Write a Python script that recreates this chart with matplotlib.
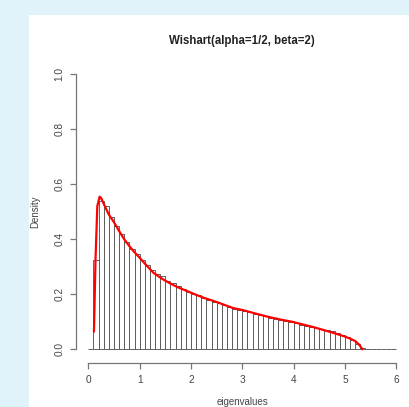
import numpy as np
import matplotlib
matplotlib.use("Agg")
import matplotlib.pyplot as plt
from matplotlib.patches import Rectangle

plt.rcParams['font.family'] = ['Liberation Sans', 'DejaVu Sans']

# histogram: bin width 0.1 from 0 to 6 (density values)
bin_edges = np.round(np.arange(0, 6.0, 0.1), 2)
bin_heights = [0.0, 0.325, 0.54, 0.52, 0.48, 0.45, 0.42, 0.39, 0.365, 0.345,
               0.325, 0.305, 0.29, 0.275, 0.265, 0.25, 0.24, 0.23, 0.22, 0.21,
               0.202, 0.196, 0.186, 0.18, 0.172, 0.168, 0.16, 0.153, 0.148, 0.143,
               0.14, 0.134, 0.128, 0.125, 0.12, 0.115, 0.112, 0.107, 0.103, 0.099,
               0.094, 0.09, 0.086, 0.082, 0.078, 0.074, 0.07, 0.065, 0.058, 0.052,
               0.045, 0.035, 0.02, 0.004, 0.0, 0.0, 0.0, 0.0, 0.0, 0.0]

# theoretical density curve (red)
curve_x = [0.11, 0.14, 0.175, 0.22, 0.25, 0.31, 0.40, 0.50, 0.60, 0.70, 0.80,
           0.89, 1.0, 1.085, 1.27, 1.45, 1.59, 1.75, 1.92, 2.1, 2.24, 2.5,
           2.82, 3.0, 3.2, 3.48, 3.75, 4.0, 4.12, 4.4, 4.77, 4.97, 5.10, 5.2,
           5.28, 5.34]
curve_y = [0.064, 0.325, 0.52, 0.555, 0.55, 0.525, 0.49, 0.462, 0.43, 0.40,
           0.375, 0.355, 0.333, 0.315, 0.278, 0.255, 0.24, 0.225, 0.212, 0.198,
           0.188, 0.172, 0.150, 0.143, 0.133, 0.119, 0.108, 0.099, 0.093, 0.08,
           0.06, 0.048, 0.039, 0.03, 0.016, 0.0]

x_ticks = [0, 1, 2, 3, 4, 5, 6]
y_ticks = [0.0, 0.2, 0.4, 0.6, 0.8, 1.0]

fig = plt.figure(figsize=(4.10, 4.07), dpi=100)
fig.patch.set_facecolor('#E0F2FA')
fig.add_artist(Rectangle((29 / 410, 0), 1, 392 / 407, transform=fig.transFigure,
                         facecolor='white', edgecolor='none', zorder=-5))

ax = fig.add_axes([76 / 410, 46.7 / 407, 332.6 / 410, 297 / 407])
ax.set_facecolor('none')

ax.bar(bin_edges, bin_heights, width=0.1, align='edge', fill=False,
       edgecolor='#606060', linewidth=0.7)
ax.plot(curve_x, curve_y, color='#FF0000', linewidth=1.6, solid_capstyle='round')

ax.set_xlim(-0.24, 6.24)
ax.set_ylim(-0.04, 1.04)

for s in ['top', 'right']:
    ax.spines[s].set_visible(False)
ax.spines['left'].set_bounds(0, 1)
ax.spines['bottom'].set_bounds(0, 6)
ax.spines['bottom'].set_position(('outward', 2))
for s in ['left', 'bottom']:
    ax.spines[s].set_color('#777777')
    ax.spines[s].set_linewidth(0.9)

ax.set_xticks(x_ticks)
ax.set_xticklabels([str(t) for t in x_ticks])
ax.set_yticks(y_ticks)
ax.set_yticklabels([f'{t:.1f}' for t in y_ticks], rotation=90, va='center')
ax.tick_params(length=4.5, width=0.9, color='#777777', labelsize=7.3,
               labelcolor='#444444', pad=4)

ax.set_title('Wishart(alpha=1/2, beta=2)', fontsize=8.3, fontweight='bold',
             color='#222222', pad=14)
ax.set_xlabel('eigenvalues', fontsize=7, color='#444444', labelpad=9)
ax.set_ylabel('Density', fontsize=7, color='#444444', labelpad=10)

fig.savefig('out.png', dpi=100, facecolor=fig.get_facecolor())
